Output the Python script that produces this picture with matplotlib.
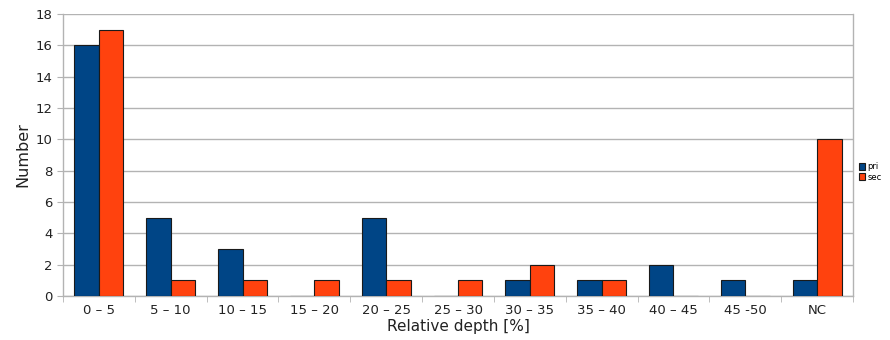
import matplotlib.pyplot as plt
import numpy as np

categories = ["0 – 5", "5 – 10", "10 – 15", "15 – 20", "20 – 25", "25 – 30",
              "30 – 35", "35 – 40", "40 – 45", "45 -50", "NC"]
pri = [16, 5, 3, 0, 5, 0, 1, 1, 2, 1, 1]
sec = [17, 1, 1, 1, 1, 1, 2, 1, 0, 0, 10]

blue = "#004586"
orange = "#ff420e"
grid_col = "#b3b3b3"

fig = plt.figure(figsize=(8.9, 3.4), dpi=100)
ax = fig.add_axes([63 / 890, 44 / 340, 790 / 890, 282 / 340])

x = np.arange(len(categories))
w = 0.34
ax.bar(x - w / 2, pri, w, color=blue, edgecolor="#1a1a1a", linewidth=0.8, label="pri", zorder=3)
ax.bar(x + w / 2, sec, w, color=orange, edgecolor="#1a1a1a", linewidth=0.8, label="sec", zorder=3)

ax.set_xlim(-0.5, len(categories) - 0.5)
ax.set_ylim(0, 18)
ax.set_yticks(range(0, 19, 2))
ax.yaxis.grid(True, color=grid_col, linewidth=1, zorder=0)

ax.set_xticks(x)
ax.set_xticklabels(categories, fontsize=9.5, color="#222222")
ax.tick_params(axis="x", length=0, pad=6)
ax.set_xticks(np.arange(-0.5, len(categories), 1), minor=True)
ax.tick_params(axis="x", which="minor", length=4, color=grid_col)
ax.tick_params(axis="y", length=4, color=grid_col, labelsize=9.5, labelcolor="#222222")

for s in ax.spines.values():
    s.set_color(grid_col)
    s.set_linewidth(1)
ax.spines["top"].set_visible(False)

ax.set_ylabel("Number", fontsize=11.5, color="#222222", labelpad=4)
ax.set_xlabel("Relative depth [%]", fontsize=11, color="#222222", labelpad=1)

leg = ax.legend(loc="center left", bbox_to_anchor=(1.0, 0.44), frameon=False,
                fontsize=6, handlelength=0.7, handleheight=0.9, handletextpad=0.3,
                labelspacing=0.2, borderaxespad=0.3)

fig.savefig("out.png", dpi=100)
